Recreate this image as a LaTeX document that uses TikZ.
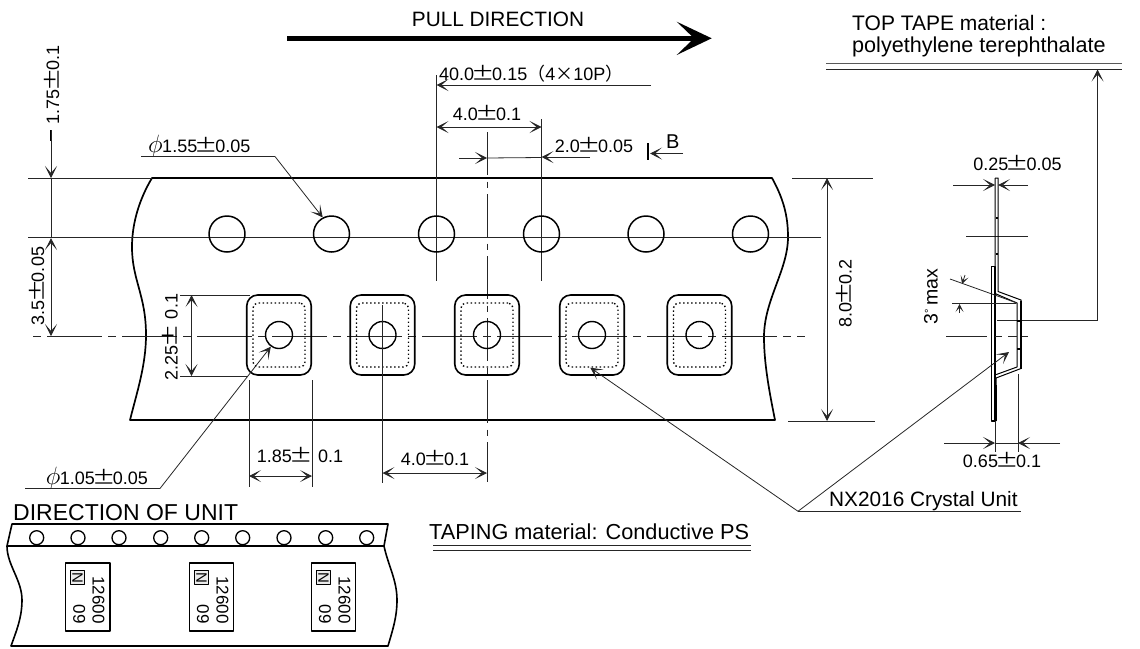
\documentclass[tikz,border=0pt]{standalone}
\usepackage{fontspec}
\setmainfont{Liberation Sans}
\newfontfamily\cjk{Noto Sans CJK JP}
\usetikzlibrary{arrows.meta}
\newcommand{\pmx}{\makebox[1em]{\scalebox{1.3}[1.05]{\cjk ±}}}
\newcommand{\phix}{\makebox[0.78em][l]{\scalebox{1.45}{$\phi$}}}
\tikzset{
  txt/.style={inner sep=0pt,anchor=base,font=\fontsize{18}{20}\selectfont},
  thin line/.style={line width=0.8pt,black!85},
  outline/.style={line width=1.7pt},
  tip/.style={-{Stealth[length=12pt,width=12pt,inset=7pt]}},
  tips/.style={{Stealth[length=12pt,width=12pt,inset=7pt]}-{Stealth[length=12pt,width=12pt,inset=7pt]}},
  smalltip/.style={-{Stealth[length=8pt,width=8pt,inset=4.5pt]}},
  hole/.style={circle,draw,line width=1.5pt,minimum size=36pt,inner sep=0pt},
  pin/.style={circle,draw,line width=1.4pt,minimum size=27pt,inner sep=0pt},
  cavity/.style={rectangle,draw,line width=1.6pt,rounded corners=11pt,minimum width=64.5pt,minimum height=80pt,inner sep=0pt},
  inner cav/.style={rectangle,draw,line width=1.4pt,dash pattern=on 1.4pt off 2.6pt,rounded corners=5pt,minimum width=52pt,minimum height=64pt,inner sep=0pt},
  unitbox/.style={rectangle,draw,line width=1.4pt,minimum width=44.5pt,minimum height=68pt,inner sep=0pt},
  nbox/.style={rectangle,draw,line width=0.9pt,fill=black!8,minimum size=14pt,inner sep=0pt,font=\fontsize{15}{15}\selectfont,rotate=-90},
  unitmark/.style={inner sep=0pt,anchor=base,font=\fontsize{17}{17}\selectfont,rotate=-90},
  smallhole/.style={circle,draw,line width=1.3pt,minimum width=14pt,minimum height=14pt,inner sep=0pt}
}
\begin{document}
\begin{tikzpicture}[x=1pt,y=-1pt,line join=round]
\useasboundingbox (0,0) rectangle (1140,648);
% pull arrow
\node[inner sep=0pt,anchor=base,font=\fontsize{20.8}{22}\selectfont] (pull) at (498,26) {PULL DIRECTION};
\draw[line width=5.3pt] (287,38.3) -- (697,38.3);
\fill (711.7,38.3) -- (676.7,21.7) -- (694,38.3) -- (676.7,55) -- cycle;
% top tape label
\node[inner sep=0pt,anchor=base west,font=\fontsize{21}{22}\selectfont] (toptape) at (852,30) {TOP TAPE material :};
\node[inner sep=0pt,anchor=base west,font=\fontsize{21.6}{22}\selectfont] (poly) at (852,52.3) {polyethylene terephthalate};
\coordinate (dl) at (826,63.7); \coordinate (dr) at (1122,63.7);
\draw[line width=1.1pt,black!65] (dl) -- (dr);
\draw[thin line] (826,69.3) -- (1122,69.3);
\coordinate (leadA) at (1097.5,320); \coordinate (leadB) at (1097.5,69.5); \coordinate (leadC) at (997,320);
\draw[thin line] (leadC) -- (leadA);
\draw[thin line,tip] (leadA) -- (leadB);
% tape outline
\draw[outline] (152,178) -- (772,178) .. controls (783,198) and (788,215) .. (788,237)
  .. controls (788,270) and (764,300) .. (764,337) .. controls (764,365) and (770,395) .. (775,420)
  -- (130,420) .. controls (137,392) and (146,365) .. (146,335) .. controls (146,295) and (132,280) .. (132,247)
  .. controls (132,222) and (140,198) .. (152,178) -- cycle;
% centre lines and extension lines
\draw[thin line] (28,178) -- (152,178);
\draw[thin line] (28,237.5) -- (821,237.5);
\draw[thin line,dash pattern=on 55pt off 6pt on 8pt off 6pt,dash phase=58pt] (30,336) -- (805,336);
\draw[thin line,dash pattern=on 43pt off 6.5pt on 6pt off 6.5pt] (487,132) -- (487,482);
\draw[thin line] (436.5,75) -- (436.5,281);
\draw[thin line] (541.5,119) -- (541.5,281);
% holes
\foreach \n/\x in {1/227,2/331.5,3/436.5,4/541.5,5/646,6/750.5}
  \node[hole] (h\n) at (\x,234) {};
% cavities
\foreach \n/\x in {1/279,2/382.5,3/487,4/592,5/699.5} {
  \node[cavity] (c\n) at (\x,335) {};
  \node[inner cav] (d\n) at (\x,335) {};
  \node[pin] (p\n) at (\x,335) {};
}
\draw[thin line] (382.5,305) -- (382.5,483);
% dimension 40
\node[txt,anchor=base west] (d40) at (439,80) {40.0\pmx 0.15{\cjk （}4{\cjk ×}10P{\cjk ）}};
\coordinate (d40r) at (651,85); \coordinate (d40l) at (436.5,85);
\draw[thin line,tip] (d40r) -- (d40l);
% dimension 4.0 top
\node[txt] (d4t) at (487,120.7) {4.0\pmx 0.1};
\draw[thin line,tips] (436.5,127) -- (541.5,127);
% dimension 2.0
\node[txt] (d2) at (594,152) {2.0\pmx 0.05};
\draw[thin line,tip] (459,158) -- (487,158);
\draw[thin line] (487,158) -- (541.5,157.5);
\draw[thin line,tip] (590,157) -- (541.5,157);
% B mark
\draw[line width=2.6pt] (648,143) -- (648,160);
\node[txt,font=\fontsize{20}{20}\selectfont] (B) at (672.7,148) {B};
\draw[thin line,tip] (683,153.5) -- (650,153.5);
% phi 1.55
\node[txt,anchor=base west] (ph1) at (148,152.7) {\phix 1.55\pmx 0.05};
\coordinate (u1a) at (141,156.5); \coordinate (u1b) at (275,156.5);
\draw[thin line] (u1a) -- (u1b);
\draw[thin line,tip] (u1b) -- (h2.118);
% phi 1.05
\node[txt,anchor=base west] (ph2) at (45.7,484) {\phix 1.05\pmx 0.05};
\coordinate (u2a) at (25,488.5); \coordinate (u2b) at (160,488.5);
\draw[thin line] (u2a) -- (u2b);
\draw[thin line,tip] (u2b) -- (p1.235);
% 1.75
\node[txt,rotate=90] (d175) at (59,85) {1.75\pmx 0.1};
\draw[line width=1.4pt] (51,130) -- (51,141);
\draw[thin line,tip] (51,130) -- (51,178);
\draw[thin line] (51,178) -- (51,237);
\draw[thin line,tips] (51,238) -- (51,336);
% 3.5
\node[txt,rotate=90] (d35) at (44,286) {3.5\pmx 0.05};
% 2.25
\node[txt,rotate=90] (d225) at (177.7,337) {2.25\pmx\, 0.1};
\draw[thin line] (180,295) -- (250,295);
\draw[thin line] (180,376) -- (248,376);
\draw[thin line,tips] (191.5,295) -- (191.5,376);
% 1.85
\draw[thin line] (249,380) -- (249,487);
\draw[thin line] (312,380) -- (312,487);
\draw[thin line,tips] (249,476) -- (312,476);
\node[txt] (d185) at (300,462.7) {1.85\pmx\, 0.1};
% 4.0 lower
\draw[thin line,tips] (382.5,473) -- (487,473);
\node[txt] (d4b) at (435,465) {4.0\pmx 0.1};
% 8.0
\draw[thin line] (792,178) -- (873,178);
\draw[thin line] (788,421) -- (875,421);
\draw[thin line,tips] (827,178) -- (827,421);
\node[txt,rotate=90] (d8) at (851.7,293.5) {8.0\pmx 0.2};
% section view
\node[txt] (d025) at (1017.5,170.7) {0.25\pmx 0.05};
\draw[thin line,tip] (953,185) -- (995,185);
\draw[thin line,tip] (1028,185) -- (998,185);
\draw[thin line] (966,236.5) -- (1028,236.5);
\draw[line width=1pt] (995,178) -- (998,178) -- (998,291.5) -- (1021,300) -- (1021,368.5) -- (996,378) -- (996,421);
\draw[line width=1pt] (995,178) -- (995,293.5) -- (1017,303) -- (1017,367) -- (995,375);
\draw[line width=1.2pt] (991.5,266.5) rectangle (995,421);
\draw[line width=2pt] (1020.5,301) -- (1020.5,369);
\draw[line width=2pt] (995.5,218) -- (997.5,218);
\draw[line width=2pt] (995.5,254) -- (997.5,254);
\draw[line width=2pt] (1017,321) -- (1021,321);
\draw[line width=2pt] (1017,349) -- (1021,349);
\draw[line width=2pt] (996,385) -- (996,421);
\draw[thin line] (952,303.5) -- (1016,303.5);
\draw[thin line] (950,279) -- (1017,303);
\draw[thin line,smalltip] (965,275) -- (962,284);
\draw[thin line,smalltip] (959.5,313) -- (959.5,304);
\node[txt,rotate=90,font=\fontsize{19.5}{20}\selectfont] (d3) at (937.7,296.5) {3{\fontsize{11}{11}\selectfont\raisebox{5pt}{°}}\,max};
\draw[thin line] (946,336) -- (987,336);
\draw[thin line] (995,336) -- (1001.5,336);
\draw[thin line] (1008,336) -- (1017,336);
\draw[thin line] (1021.5,336) -- (1028,336);
\draw[thin line] (995,421) -- (995,452);
\draw[thin line] (1018,374) -- (1018,452);
\draw[thin line,tip] (944,443) -- (995,443);
\draw[thin line,tip] (1060,443) -- (1018,443);
\draw[thin line] (995,443) -- (1018,443);
\node[txt] (d065) at (1002,467) {0.65\pmx 0.1};
% NX2016
\node[inner sep=0pt,anchor=base west,font=\fontsize{20.8}{22}\selectfont] (nx) at (829,506) {NX2016 Crystal Unit};
\coordinate (nxa) at (798,511.3); \coordinate (nxb) at (1021,511.3);
\coordinate (nxs) at (1009,352);
\draw[thin line] (nxa) -- (nxb);
\draw[thin line,tip] (nxa) -- (d4.-93);
\draw[thin line,tip] (nxa) -- (nxs);
% taping
\node[inner sep=0pt,anchor=base west,font=\fontsize{21.7}{22}\selectfont] (tap) at (429,539.3) {TAPING material: Conductive PS};
\draw[thin line] (433,545.7) -- (751,545.7);
\draw[thin line] (433,550.7) -- (751,550.7);
% direction of unit
\node[inner sep=0pt,anchor=west,font=\fontsize{23}{24}\selectfont] (dou) at (13,513) {DIRECTION OF UNIT};
\draw[outline,line width=1.6pt] (12,524) -- (388,524) -- (384,546) .. controls (388,565) and (397,580) .. (397,600) .. controls (397,618) and (392,632) .. (388,646)
  -- (11,646) .. controls (16,632) and (22,618) .. (22,600) .. controls (22,580) and (7,565) .. (7,546) -- cycle;
\draw[line width=1.6pt] (7,546) -- (384,546);
\foreach \n/\x in {1/36.7,2/78,3/119,4/160.7,5/201.7,6/242.7,7/284,8/325.7,9/366.7}
  \node[smallhole] (s\n) at (\x,537.7) {};
\foreach \n/\x in {1/87.6,2/211.5,3/333.5} {
  \node[unitbox] (u\n) at (\x,597) {};
  \node[nbox] (n\n) at (\x-10,577.5) {N};
  \node[unitmark] (ma\n) at (\x+5,600) {12600};
  \node[unitmark] (mb\n) at (\x-14.3,614) {09};
}
\end{tikzpicture}
\end{document}
